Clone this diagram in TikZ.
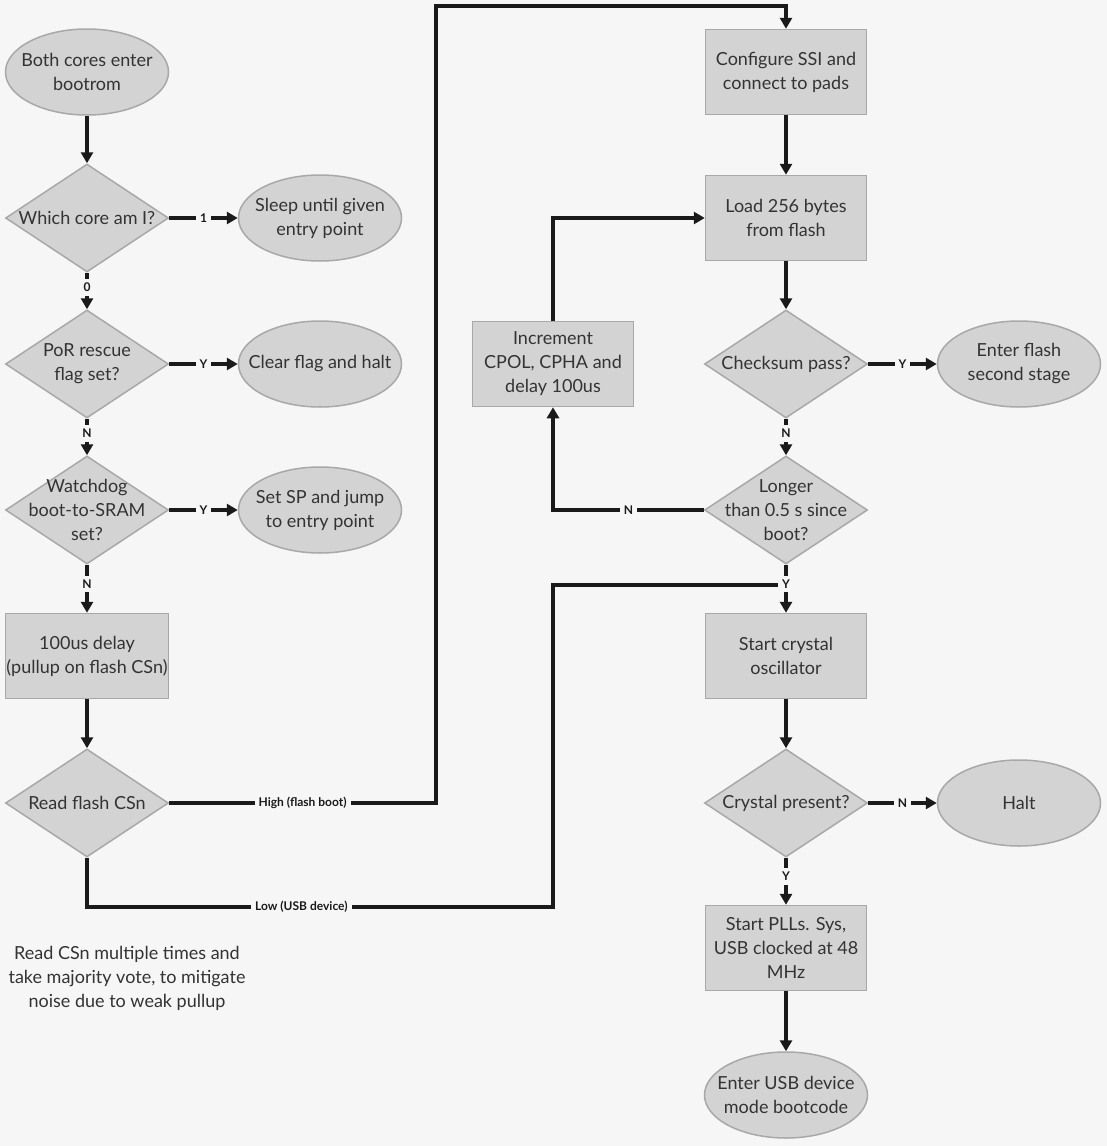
\documentclass[tikz,border=0pt]{standalone}
\usepackage{fontspec}
\setmainfont{Lato}
\usetikzlibrary{shapes.geometric,arrows.meta}

\definecolor{bgcol}{HTML}{F6F6F6}
\definecolor{boxfill}{HTML}{D3D3D3}
\definecolor{boxline}{HTML}{A8A8A8}
\definecolor{txtcol}{HTML}{333333}
\definecolor{linecol}{HTML}{1A1A1A}

\tikzset{
  txt/.style={align=center, text=txtcol, font=\fontsize{18}{24}\selectfont},
  proc/.style={rectangle, draw=boxline, line width=1.5pt, fill=boxfill,
    minimum width=161pt, minimum height=85pt, inner sep=1pt, txt},
  term/.style={ellipse, draw=boxline, line width=1.5pt, fill=boxfill,
    minimum width=163pt, minimum height=86pt, inner sep=0pt},
  dec/.style={diamond, draw=boxline, line width=1.5pt, fill=boxfill,
    minimum width=163pt, minimum height=108pt, inner sep=0pt},
  flow/.style={draw=linecol, line width=3.2pt, -{Triangle[length=11pt,width=12pt]}},
  wire/.style={draw=linecol, line width=3.2pt},
  lbl/.style={fill=bgcol, text=linecol, inner sep=4pt,
    font=\bfseries\fontsize{12}{12}\selectfont}
}

\begin{document}
\begin{tikzpicture}[x=1pt,y=-1pt]
\fill[bgcol] (0,0) rectangle (1107,1146);
\useasboundingbox (0,0) rectangle (1107,1146);

% left column
\node[term, label={[txt]center:Both cores enter\\bootrom}] (enter) at (87,72) {};
\node[dec, label={[txt]center:Which core am I?}] (core) at (87,218) {};
\node[term, label={[txt]center:Sleep until given\\entry point}] (sleep) at (320,218) {};
\node[dec, label={[txt]center:PoR rescue\\flag set?}] (por) at (87,364) {};
\node[term, label={[txt]center:Clear flag and halt}] (clear) at (320,364) {};
\node[dec, label={[txt]center:Watchdog\\boot-to-SRAM\\set?}] (wdog) at (87,510) {};
\node[term, label={[txt]center:Set SP and jump\\to entry point}] (jump) at (320,510) {};
\node[proc] (delay) at (87,656) {100us delay\\(pullup on flash CSn)};
\node[dec, label={[txt]center:Read flash CSn}] (read) at (87,803) {};
\node[txt] (note) at (127,978) {Read CSn multiple times and\\take majority vote, to mitigate\\noise due to weak pullup};

% right column
\node[proc] (ssi) at (786,72) {Configure SSI and\\connect to pads};
\node[proc] (load) at (786,218) {Load 256 bytes\\from flash};
\node[proc] (incr) at (553,364) {Increment\\CPOL, CPHA and\\delay 100us};
\node[dec, label={[txt]center:Checksum pass?}] (csum) at (786,364) {};
\node[term, label={[txt]center:Enter flash\\second stage}] (stage2) at (1019,364) {};
\node[dec, label={[txt]center:Longer\\than 0.5 s since\\boot?}] (timeout) at (786,510) {};
\node[proc] (xosc) at (786,656) {Start crystal\\oscillator};
\node[dec, label={[txt]center:Crystal present?}] (xtal) at (786,803) {};
\node[term, label={[txt]center:Halt}] (halt) at (1019,803) {};
\node[proc] (pll) at (786,948) {Start PLLs. Sys,\\USB clocked at 48\\MHz};
\node[term, label={[txt]center:Enter USB device\\mode bootcode}] (usb) at (786,1095) {};

\coordinate (hibend) at (436,803);
\coordinate (hitop) at (786,6);
\coordinate (lobend) at (87,907);
\coordinate (locorner) at (553,907);
\coordinate (lojoin) at (786,585);
\coordinate (nbend) at (553,510);

% connectors
\draw[flow] (enter) -- (core);
\draw[flow] (core) -- node[lbl]{1} (sleep);
\draw[flow] (core) -- node[lbl, pos=0.4]{0} (por);
\draw[flow] (por) -- node[lbl]{Y} (clear);
\draw[flow] (por) -- node[lbl, pos=0.4]{N} (wdog);
\draw[flow] (wdog) -- node[lbl]{Y} (jump);
\draw[flow] (wdog) -- node[lbl, pos=0.4]{N} (delay);
\draw[flow] (delay) -- (read);
\draw[flow] (read.east) -- node[lbl]{High (flash boot)} (hibend) |- (hitop) -- (ssi.north);
\draw[wire] (read.south) -- (lobend) -- node[lbl, pos=0.46]{Low (USB device)} (locorner) |- (lojoin);
\draw[flow] (ssi) -- (load);
\draw[flow] (load) -- (csum);
\draw[flow] (csum) -- node[lbl]{Y} (stage2);
\draw[flow] (csum) -- node[lbl, pos=0.4]{N} (timeout);
\draw[flow] (timeout.west) -- node[lbl]{N} (nbend) -- (incr.south);
\draw[flow] (incr.north) |- (load.west);
\draw[flow] (timeout) -- node[lbl, pos=0.4]{Y} (xosc);
\draw[flow] (xosc) -- (xtal);
\draw[flow] (xtal) -- node[lbl]{N} (halt);
\draw[flow] (xtal) -- node[lbl, pos=0.4]{Y} (pll);
\draw[flow] (pll) -- (usb);
\end{tikzpicture}
\end{document}
